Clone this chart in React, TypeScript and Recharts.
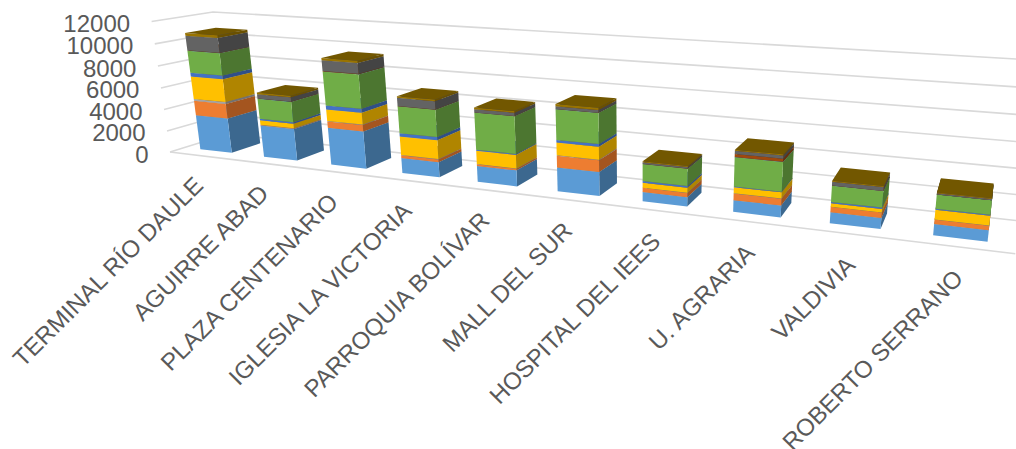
import React from 'react';
import { BarChart, Bar, XAxis, YAxis, CartesianGrid } from 'recharts';

const categories = ['TERMINAL RÍO DAULE', 'AGUIRRE ABAD', 'PLAZA CENTENARIO', 'IGLESIA LA VICTORIA', 'PARROQUIA BOLÍVAR', 'MALL DEL SUR', 'HOSPITAL DEL IEES', 'U. AGRARIA', 'VALDIVIA', 'ROBERTO SERRANO'];
const s1 = [3240, 2900, 3330, 1320, 1370, 2000, 750, 930, 850, 850];
const s2 = [1360, 50, 580, 250, 140, 960, 340, 530, 410, 330];
const s3 = [180, 30, 30, 30, 20, 50, 20, 20, 10, 10];
const s4 = [2090, 400, 1040, 1630, 1150, 1060, 390, 480, 270, 730];
const s5 = [330, 150, 350, 280, 80, 210, 150, 50, 100, 70];
const s6 = [2030, 1830, 2970, 2330, 3140, 2500, 1370, 2290, 1240, 1040];
const s7 = [10, 10, 20, 10, 10, 10, 5, 10, 5, 5];
const s8 = [20, 20, 40, 20, 10, 10, 10, 240, 5, 5];
const s9 = [1330, 380, 920, 700, 270, 210, 130, 250, 290, 90];
const s10 = [240, 150, 200, 140, 140, 190, 80, 80, 70, 50];
const series = [s1, s2, s3, s4, s5, s6, s7, s8, s9, s10];
const colors = ['#5B9BD5', '#ED7D31', '#A5A5A5', '#FFC000', '#4472C4', '#70AD47', '#255E91', '#9E480E', '#636363', '#997300'];
const sideColors = ['#3C688F', '#A4551F', '#727272', '#B08500', '#2F4F88', '#4C7630', '#193F63', '#6C3009', '#444444', '#6A5000'];
const topColors = ['#44749F', '#B25E25', '#7C7C7C', '#BF9000', '#335593', '#548235', '#1C466D', '#763600', '#4A4A4A', '#725700'];
const yTicks = [0, 2000, 4000, 6000, 8000, 10000, 12000];

const rows = categories.map((name, i) => {
  const row: Record<string, any> = { name };
  series.forEach((s, k) => { row[`s${k}`] = s[i]; });
  return row;
});

const W = 1016;
const H = 449;
const PLOT = { left: 100, top: 20, width: 900, height: 400 };

// box corners of the 3d chart: u along categories, v up, w from back wall to front
const O = [228, 134];
const A = [1016, 220.5];
const B = [213, 12];
const C = [170, 152];
const G = -0.25;
const K = -0.035;
const I = -0.068;
const W_FRONT = 0.755;
const W_BACK = 0.245;

const proj = (u: number, v: number, w: number) => {
  const d = 1 + G * u + K * v + I * w;
  return [0, 1].map(
    (c) =>
      (O[c] +
        u * ((1 + G) * A[c] - O[c]) +
        v * ((1 + K) * B[c] - O[c]) +
        w * ((1 + I) * C[c] - O[c])) / d
  );
};

const pts = (list: number[][]) => list.map((p) => `${p[0].toFixed(2)},${p[1].toFixed(2)}`).join(' ');
const toU = (x: number) => (x - PLOT.left) / PLOT.width;
const toV = (y: number) => 1 - (y - PLOT.top) / PLOT.height;

const Block3D = (k: number) => (props: any) => {
  const { x, y, width, height } = props;
  const u0 = toU(x);
  const u1 = toU(x + width);
  const v1 = toV(y);
  const v0 = toV(y + height);
  const f = W_FRONT;
  const b = W_BACK;
  return (
    <g>
      <polygon fill={sideColors[k]} points={pts([proj(u1, v0, f), proj(u1, v0, b), proj(u1, v1, b), proj(u1, v1, f)])} />
      <polygon fill={colors[k]} points={pts([proj(u0, v0, f), proj(u1, v0, f), proj(u1, v1, f), proj(u0, v1, f)])} />
      <polygon fill={topColors[k]} points={pts([proj(u0, v1, f), proj(u1, v1, f), proj(u1, v1, b), proj(u0, v1, b)])} />
    </g>
  );
};

const GridLine = (props: any) => {
  const v = toV(props.y1);
  const path = pts([proj(0, v, 1), proj(0, v, 0), proj(1, v, 0)]);
  return (
    <g>
      <polyline points={path} fill="none" stroke="#D9D9D9" strokeWidth={1.6} />
      {Math.abs(v) < 0.001 && (
        <polyline points={pts([proj(0, 0, 1), proj(1, 0, 1)])} fill="none" stroke="#D9D9D9" strokeWidth={1.6} />
      )}
    </g>
  );
};

const YTick = (props: any) => {
  const v = toV(props.y);
  const p = proj(0, v, 1);
  return (
    <text x={p[0] - 21.5} y={p[1] + 10.5} textAnchor="end" fontSize={24} fill="#595959" fontFamily="Liberation Sans">
      {props.payload.value}
    </text>
  );
};

const XTick = (props: any) => {
  const u = toU(props.x);
  const p = proj(u, 0, 1);
  const ax = p[0] + 3 + 3 * u;
  const ay = p[1] + 31 + 2 * u;
  return (
    <text
      x={ax}
      y={ay}
      textAnchor="end"
      fontSize={24}
      fill="#595959"
      fontFamily="Liberation Sans"
      transform={`rotate(-45 ${ax} ${ay})`}
    >
      {props.payload.value}
    </text>
  );
};

export default function App() {
  return (
    <div style={{ position: 'absolute', left: 0, top: 0, width: W, height: H, background: '#fff' }}>
      <BarChart
        width={W}
        height={H}
        data={rows}
        barCategoryGap="25%"
        margin={{ top: PLOT.top, right: W - PLOT.left - PLOT.width, bottom: 0, left: 0 }}
      >
        <CartesianGrid vertical={false} horizontal={GridLine as any} />
        <XAxis dataKey="name" height={H - PLOT.top - PLOT.height} interval={0} axisLine={false} tickLine={false} tick={XTick as any} />
        <YAxis width={PLOT.left} domain={[0, 12000]} ticks={yTicks} axisLine={false} tickLine={false} tick={YTick as any} />
        {series.map((_, k) => (
          <Bar key={k} dataKey={`s${k}`} stackId="a" fill={colors[k]} isAnimationActive={false} shape={Block3D(k) as any} />
        ))}
      </BarChart>
    </div>
  );
}
